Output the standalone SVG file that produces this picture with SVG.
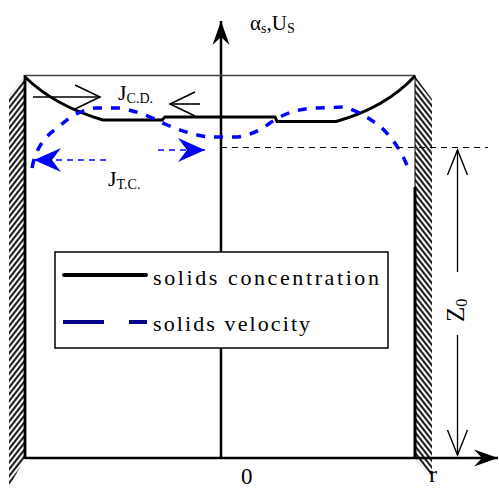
<svg xmlns="http://www.w3.org/2000/svg" width="499" height="488" viewBox="0 0 499 488">
<defs>
<pattern id="hL" patternUnits="userSpaceOnUse" width="4.2" height="10" patternTransform="rotate(38)">
<line x1="2.1" y1="0" x2="2.1" y2="10" stroke="#000" stroke-width="1.9"/>
</pattern>
<pattern id="hR" patternUnits="userSpaceOnUse" width="4.2" height="10" patternTransform="rotate(-38)">
<line x1="2.1" y1="0" x2="2.1" y2="10" stroke="#000" stroke-width="1.9"/>
</pattern>
<marker id="openB" markerWidth="28" markerHeight="28" refX="26" refY="13" orient="auto" markerUnits="userSpaceOnUse" overflow="visible">
<path d="M1,1 L26,13 L1,25" fill="none" stroke="#000" stroke-width="1.6"/>
</marker>
<marker id="openZ" markerWidth="28" markerHeight="24" refX="25" refY="10" orient="auto" markerUnits="userSpaceOnUse" overflow="visible">
<path d="M0,0 L25,10 L0,20" fill="none" stroke="#000" stroke-width="1.4"/>
</marker>
<marker id="fillBlue" markerWidth="30" markerHeight="26" refX="27" refY="12" orient="auto" markerUnits="userSpaceOnUse" overflow="visible">
<path d="M0,0 L27,12 L0,24 L9,12 Z" fill="#0000ff"/>
</marker>
<marker id="axisHead" markerWidth="26" markerHeight="20" refX="24" refY="8.5" orient="auto" markerUnits="userSpaceOnUse" overflow="visible">
<path d="M0,0 L24,8.5 L0,17 L8,8.5 Z" fill="#000"/>
</marker>
</defs>

<g id="walls">
<polygon points="25,76 25,458 9,487 9,96" fill="url(#hL)"/>
<polygon points="415,76 432,99 432,479 415,458" fill="url(#hR)"/>
<line x1="25" y1="75" x2="25" y2="459" stroke="#000" stroke-width="2.8"/>
<line x1="415" y1="75" x2="415" y2="187" stroke="#000" stroke-width="1"/>
<line x1="415" y1="187" x2="415" y2="459" stroke="#000" stroke-width="3"/>
</g>

<g id="axes">
<line x1="25" y1="458" x2="498" y2="458" stroke="#000" stroke-width="2.5" marker-end="url(#axisHead)"/>
<line x1="221" y1="458" x2="221" y2="21" stroke="#000" stroke-width="2.5" marker-end="url(#axisHead)"/>
<line x1="25" y1="75.5" x2="415" y2="75.5" stroke="#444" stroke-width="1.6"/>
</g>

<g id="concentration-curve">
<path stroke="#000" fill="none" stroke-width="3" d="M25,77 Q55,106 103,120 L162,120 L165,117 L275,117 L277,121.5 L336,121.5 Q385,108 415,76"/>
</g>

<g id="velocity-curve">
<path stroke="#0000ff" fill="none" stroke-width="3.5" stroke-dasharray="9,9" d="M32,168 Q37,140 60,126 Q75,111 95,108 L120,108 Q145,113 165,124 Q190,135 210,137 L238,137 Q256,134 270,123 Q290,109 315,108 L345,107 Q365,114 382,128 Q400,146 408,168"/>
</g>

<g id="connectors" fill="none">
<line x1="221" y1="147.5" x2="488" y2="147.5" stroke="#000" stroke-width="1.2" stroke-dasharray="6,5"/>
<line x1="33" y1="97" x2="100" y2="97" stroke="#000" stroke-width="1.6" marker-end="url(#openB)"/>
<line x1="200" y1="104" x2="170" y2="104" stroke="#000" stroke-width="1.6" marker-end="url(#openB)"/>
<line x1="106" y1="160" x2="34" y2="160" stroke="#0000ff" stroke-width="1.6" stroke-dasharray="6,5" marker-end="url(#fillBlue)"/>
<line x1="158" y1="150" x2="205" y2="150" stroke="#0000ff" stroke-width="1.6" stroke-dasharray="6,5" marker-end="url(#fillBlue)"/>
<line x1="457.5" y1="272" x2="457.5" y2="150" stroke="#000" stroke-width="1.3" marker-end="url(#openZ)"/>
<line x1="457.5" y1="335" x2="457.5" y2="455" stroke="#000" stroke-width="1.3" marker-end="url(#openZ)"/>
</g>

<g id="labels">
<text x="250" y="30" style="font-family:'Liberation Serif',serif" font-size="21">α<tspan font-size="14" dy="3">s</tspan><tspan dy="-3">,U</tspan><tspan font-size="14" dy="3">S</tspan></text>
<text x="118" y="100" style="font-family:'Liberation Serif',serif" font-size="22">J<tspan font-size="14" dy="3">C.D.</tspan></text>
<text x="108" y="186" style="font-family:'Liberation Serif',serif" font-size="22">J<tspan font-size="14" dy="3">T.C.</tspan></text>
<text transform="translate(464,322) rotate(-90)" style="font-family:'Liberation Serif',serif" font-size="25">Z<tspan dy="3" font-size="16">0</tspan></text>
<text x="241" y="484" style="font-family:'Liberation Serif',serif" font-size="23">0</text>
<text x="429" y="482" style="font-family:'Liberation Serif',serif" font-size="24">r</text>
</g>

<g id="legend">
<rect x="55" y="252" width="333" height="96" fill="#fff" stroke="#000" stroke-width="1.5"/>
<line x1="64" y1="275" x2="146" y2="275" stroke="#000" stroke-width="4" stroke-linecap="round"/>
<line x1="63" y1="322" x2="104" y2="322" stroke="#00008b" stroke-width="4"/>
<line x1="129" y1="322" x2="147" y2="322" stroke="#00008b" stroke-width="4"/>
<text x="153" y="285" style="font-family:'Liberation Serif',serif" font-size="22" letter-spacing="2.6">solids concentration</text>
<text x="153" y="331" style="font-family:'Liberation Serif',serif" font-size="22" letter-spacing="2.1">solids velocity</text>
</g>
</svg>
